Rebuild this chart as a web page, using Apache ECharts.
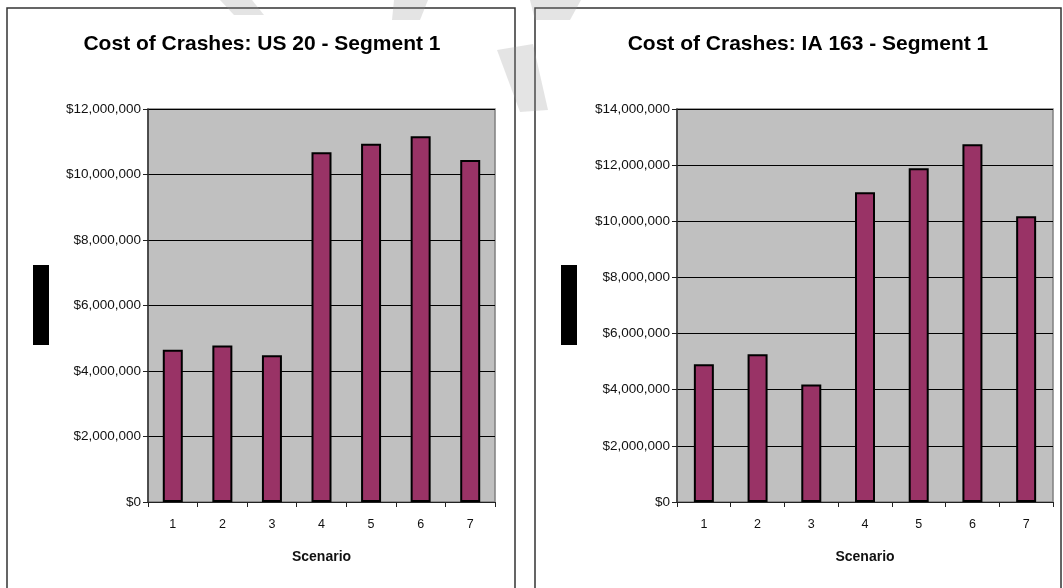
<!DOCTYPE html>
<html>
<head>
<meta charset="utf-8">
<script src="https://cdn.jsdelivr.net/npm/echarts@6/dist/echarts.min.js"></script>
<style>
  html, body { margin: 0; padding: 0; background: #fff; }
  #chart { width: 1063px; height: 588px; }
</style>
</head>
<body>
<div id="chart"></div>
<script>
// Scenario numbers shared by both panels
const scenarios = ['1', '2', '3', '4', '5', '6', '7'];

// Crash cost per scenario, US 20 - Segment 1 (dollars)
const us20Costs = [4650000, 4780000, 4480000, 10680000, 10940000, 11170000, 10440000];

// Crash cost per scenario, IA 163 - Segment 1 (dollars)
const ia163Costs = [4910000, 5260000, 4190000, 11030000, 11890000, 12740000, 10180000];

// Panel titles and axis settings
const panelTitles = ['Cost of Crashes: US 20 - Segment 1', 'Cost of Crashes: IA 163 - Segment 1'];
const yMax = [12000000, 14000000];
const yStep = 2000000;
const xAxisName = 'Scenario';

const FONT = 'Liberation Sans, Arial, sans-serif';

function money(v) {
  return '$' + Math.round(v).toLocaleString('en-US');
}

function xAxisFor(gridIndex) {
  return {
    type: 'category',
    gridIndex: gridIndex,
    data: scenarios,
    boundaryGap: true,
    name: xAxisName,
    nameLocation: 'middle',
    nameGap: 48,
    nameTextStyle: { fontFamily: FONT, fontSize: 14, fontWeight: 'bold', color: '#111' },
    axisLine: { lineStyle: { color: '#222', width: 1 } },
    axisTick: { show: true, length: 5, lineStyle: { color: '#222' } },
    axisLabel: { fontFamily: FONT, fontSize: 12.5, color: '#111', margin: 16 },
    splitLine: { show: false }
  };
}

function yAxisFor(gridIndex, max) {
  return {
    type: 'value',
    gridIndex: gridIndex,
    min: 0,
    max: max,
    interval: yStep,
    axisLine: { show: true, lineStyle: { color: '#333', width: 1.5 } },
    axisTick: { show: true, length: 5, lineStyle: { color: '#222' } },
    axisLabel: { fontFamily: FONT, fontSize: 13.5, color: '#111', margin: 7, formatter: money },
    splitLine: { show: true, lineStyle: { color: '#000', width: 1 } }
  };
}

function barSeries(index, values) {
  return {
    type: 'bar',
    xAxisIndex: index,
    yAxisIndex: index,
    data: values,
    barWidth: 20,
    itemStyle: { color: '#993366', borderColor: '#000', borderWidth: 2 },
    silent: true,
    animation: false
  };
}

// faint diagonal strokes drawn over the page background
function stroke(points) {
  return {
    type: 'polygon',
    shape: { points: points },
    style: { fill: 'rgba(150,150,150,0.26)' },
    silent: true,
    z: 120
  };
}

const chart = echarts.init(document.getElementById('chart'), null, { renderer: 'canvas' });

chart.setOption({
  animation: false,
  backgroundColor: '#fff',
  title: [
    {
      text: panelTitles[0], left: 257, top: 29, textAlign: 'center',
      textStyle: { fontFamily: FONT, fontSize: 21, fontWeight: 'bold', color: '#000' }
    },
    {
      text: panelTitles[1], left: 803, top: 29, textAlign: 'center',
      textStyle: { fontFamily: FONT, fontSize: 21, fontWeight: 'bold', color: '#000' }
    }
  ],
  grid: [
    { left: 148, top: 109, width: 347, height: 393, show: true, backgroundColor: '#c0c0c0', borderColor: '#808080', borderWidth: 1.5 },
    { left: 677, top: 109, width: 376, height: 393, show: true, backgroundColor: '#c0c0c0', borderColor: '#808080', borderWidth: 1.5 }
  ],
  xAxis: [xAxisFor(0), xAxisFor(1)],
  yAxis: [yAxisFor(0, yMax[0]), yAxisFor(1, yMax[1])],
  series: [barSeries(0, us20Costs), barSeries(1, ia163Costs)],
  graphic: [
    // panel frames
    { type: 'rect', shape: { x: 7, y: 8, width: 508, height: 600 }, style: { fill: 'none', stroke: '#333', lineWidth: 1.5 }, z: 100 },
    { type: 'rect', shape: { x: 535, y: 8, width: 526, height: 600 }, style: { fill: 'none', stroke: '#333', lineWidth: 1.5 }, z: 100 },
    // solid blocks where the value-axis captions sit
    { type: 'rect', shape: { x: 33, y: 265, width: 16, height: 80 }, style: { fill: '#000' }, z: 100 },
    { type: 'rect', shape: { x: 561, y: 265, width: 16, height: 80 }, style: { fill: '#000' }, z: 100 },
    // background strokes near the top edge
    stroke([[220, 0], [252, 0], [264, 15], [234, 15]]),
    stroke([[394, 0], [428, 0], [420, 20], [392, 20]]),
    stroke([[530, 0], [581, 0], [570, 20], [535, 20]]),
    stroke([[497, 50], [533, 44], [548, 110], [520, 112]])
  ]
});
</script>
</body>
</html>
